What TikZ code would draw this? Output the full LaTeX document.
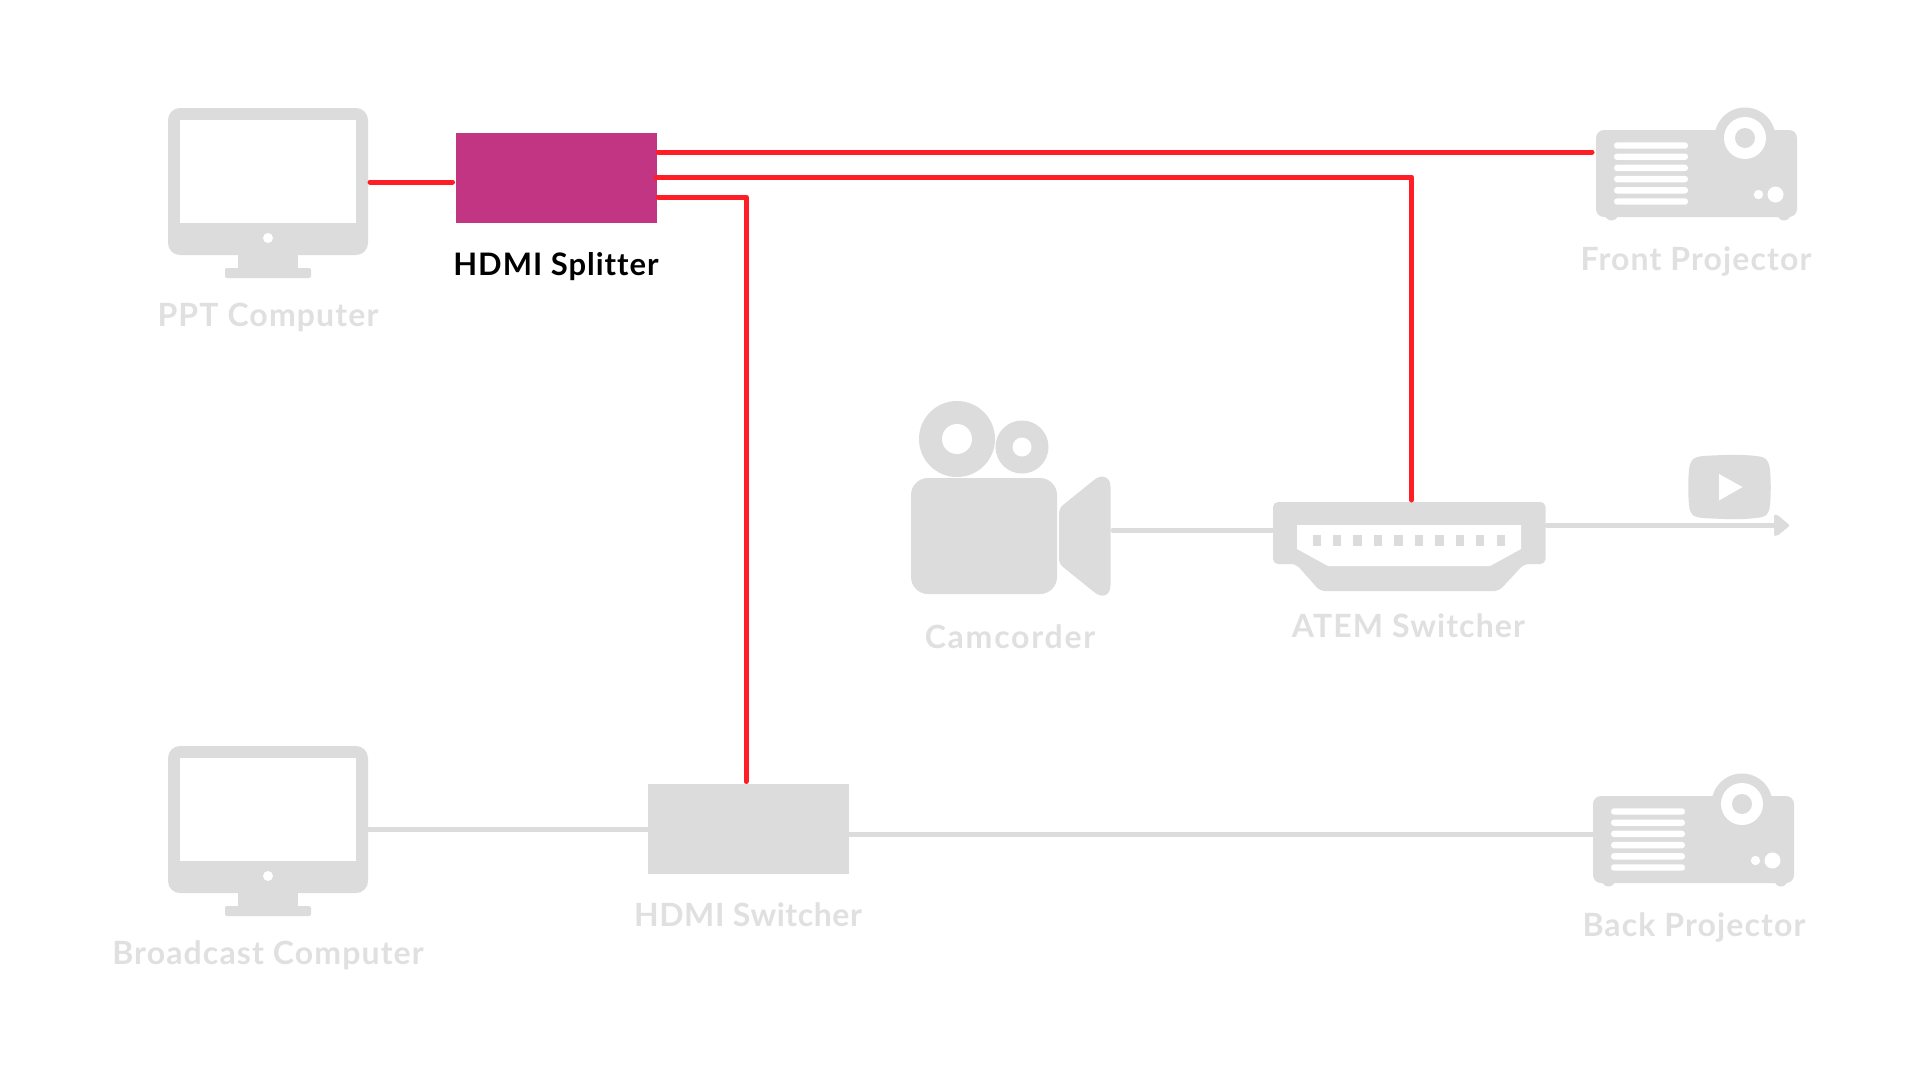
\documentclass[tikz,border=0pt]{standalone}
\usepackage{fontspec}
\setmainfont{Lato}
\newfontfamily\labelfont[LetterSpace=3.5,Ligatures=NoCommon]{Lato}
\newfontfamily\labeltight[LetterSpace=1.8,Ligatures=NoCommon]{Lato}
\newfontfamily\labelwide[LetterSpace=5.5,Ligatures=NoCommon]{Lato}
\newfontfamily\blackfont[LetterSpace=3.2,Ligatures=NoCommon]{Lato}
\definecolor{iconGray}{HTML}{DCDCDC}
\definecolor{labelGray}{HTML}{E0E0E0}
\definecolor{wireRed}{HTML}{FF1E26}
\definecolor{boxMagenta}{HTML}{C23582}
\tikzset{
  redwire/.style={draw=wireRed,line width=5pt,line join=round,line cap=round},
  graywire/.style={draw=iconGray,line width=5pt,line cap=round},
  device/.style={rectangle,inner sep=0pt,minimum width=201pt,minimum height=90pt},
  lab/.style={font=\labelfont\fontsize{32}{34}\selectfont\bfseries,text=labelGray,inner sep=0pt,anchor=center},
  blab/.style={font=\blackfont\fontsize{31}{34}\selectfont\bfseries,text=black,inner sep=0pt,anchor=center},
  gicon/.style={fill=iconGray,draw=none},
  wicon/.style={fill=white,draw=none},
  pics/monitor/.style={code={
    \fill[gicon,rounded corners=12pt] (168,108) rectangle (368,255);
    \fill[gicon] (238,250) rectangle (298,272);
    \fill[gicon,rounded corners=2pt] (225,268) rectangle (311,278);
    \fill[wicon] (180,120) rectangle (356,223);
    \fill[wicon] (268,238) circle (5);
  }},
  pics/projector/.style={code={
    \fill[gicon] (1611.5,214) circle (6.5);
    \fill[gicon] (1784,214) circle (6.5);
    \fill[gicon,rounded corners=8pt] (1596,130) rectangle (1797,217);
    \fill[gicon] (1745,138) circle (30.5);
    \fill[wicon] (1745,138) circle (21);
    \fill[gicon] (1745,138) circle (10);
    \foreach \vy in {145.5,156.7,167.9,179.1,190.3,201.5}
      \fill[wicon,rounded corners=3pt] (1614,\vy-3.2) rectangle (1688,\vy+3.2);
    \fill[wicon] (1758.5,194.5) circle (4.7);
    \fill[wicon] (1775.5,194.5) circle (8);
  }}
}
\begin{document}
\begin{tikzpicture}[x=1pt,y=-1pt]
\useasboundingbox (0,0) rectangle (1920,1080);
\fill[white] (0,0) rectangle (1920,1080);

% computers
\pic at (0,0) {monitor};
\pic at (0,638) {monitor};
\coordinate (pptOut) at (370,182);
\coordinate (bcOut) at (368,829);

% projectors
\pic at (0,0) {projector};
\pic at (-3,666) {projector};
\coordinate (frontIn) at (1592,152);
\coordinate (backIn) at (1593,834);

% boxes
\node[device,fill=boxMagenta] (splitter) at (556,178) {};
\node[device,fill=iconGray] (switcher) at (748.5,829) {};
\coordinate (spIn) at (452.5,182);
\coordinate (spA) at (658,152);
\coordinate (spB) at (656,177);
\coordinate (spC) at (658,197);
\coordinate (swTop) at (746,781.5);
\coordinate (swLeft) at (648,829);
\coordinate (swRight) at (849,834);

% camera
\fill[gicon,rounded corners=17pt] (911,478) rectangle (1057,594);
\fill[gicon] (957,439) circle (38);
\fill[wicon] (957,439) circle (15);
\fill[gicon] (1022,447) circle (26.5);
\fill[wicon] (1022,447) circle (9.5);
\fill[gicon] (1059,515) .. controls (1059,510) and (1060,508) .. (1063,505) -- (1094,480) .. controls (1101,474) and (1110.5,476) .. (1110.5,487) -- (1110.5,585) .. controls (1110.5,597) and (1101,598) .. (1094,592) -- (1063,567) .. controls (1060,564) and (1059,562) .. (1059,558) -- cycle;
\coordinate (camOut) at (1113,530);

% ATEM switcher
\fill[gicon,rounded corners=5pt] (1273,502) -- (1545.5,502) -- (1545.5,564) -- (1524,564) -- (1499,591) -- (1320,591) -- (1296,564) -- (1273,564) -- cycle;
\fill[wicon] (1297,525) -- (1521,525) -- (1521,549) -- (1490,566) -- (1328,566) -- (1297,549) -- cycle;
\foreach \i in {0,...,9} \fill[gicon] (1312.5+20.45*\i,534.5) rectangle (1320.8+20.45*\i,545.5);
\coordinate (atemTop) at (1411.5,500);
\coordinate (atemLeft) at (1272,530);
\coordinate (atemRight) at (1547,525.5);
\coordinate (streamEnd) at (1775,525.5);

% stream arrow head
\fill[iconGray,rounded corners=2pt] (1774,514.5) -- (1777,514.5) -- (1790,525.5) -- (1777,536) -- (1774,536) -- cycle;

% YouTube icon
\fill[gicon] (1703,456) .. controls (1728,454.5) and (1744,454.5) .. (1756,456) .. controls (1767,457) and (1769,461) .. (1770,470) .. controls (1771,480) and (1771,495) .. (1770,505) .. controls (1769,514) and (1767,517) .. (1756,518) .. controls (1744,519.5) and (1728,519.5) .. (1703,518) .. controls (1692,517) and (1690,514) .. (1689,505) .. controls (1688,495) and (1688,480) .. (1689,470) .. controls (1690,461) and (1692,457) .. (1703,456) -- cycle;
\fill[wicon] (1719,474) -- (1742.5,487) -- (1719,500.5) -- cycle;

% connectors
\draw[graywire] (bcOut) -- (swLeft);
\draw[graywire] (swRight) -- (backIn);
\draw[graywire] (camOut) -- (atemLeft);
\draw[graywire] (atemRight) -- (streamEnd);
\draw[redwire] (pptOut) -- (spIn);
\draw[redwire] (spA) -- (frontIn);
\draw[redwire] (spB) -| (atemTop);
\draw[redwire] (spC) -| (swTop);

% labels
\node[lab] (lblPPT) at (268,317) {PPT Computer};
\node[blab] (lblSplit) at (556,267) {HDMI Splitter};
\node[lab] (lblFront) at (1696,261.5) {Front Projector};
\node[lab] (lblCam) at (1010,637) {\labelwide Camcorder};
\node[lab] (lblATEM) at (1408.5,626) {ATEM Switcher};
\node[lab] (lblHSw) at (748,915) {\labeltight HDMI Switcher};
\node[lab] (lblBC) at (268,955) {Broadcast Computer};
\node[lab] (lblBack) at (1694,927) {Back Projector};
\end{tikzpicture}
\end{document}
